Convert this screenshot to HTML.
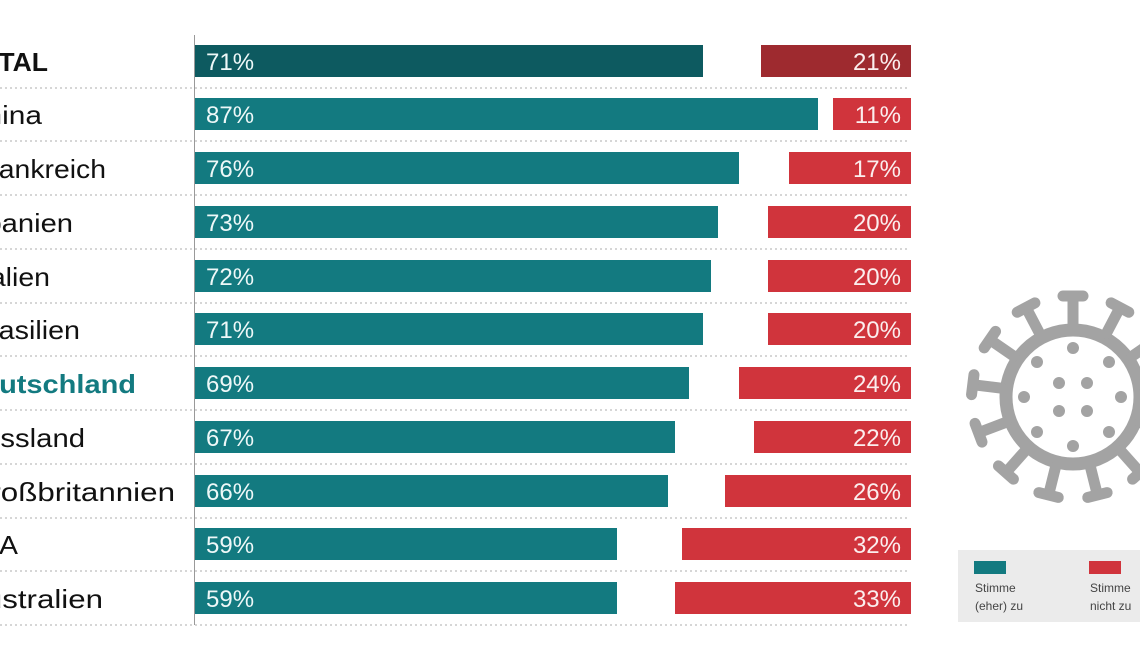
<!DOCTYPE html>
<html><head><meta charset="utf-8"><style>
html,body{margin:0;padding:0;background:#fff;}
svg{display:block;}
</style></head><body>
<svg width="1140" height="659" viewBox="0 0 1140 659" xmlns="http://www.w3.org/2000/svg" font-family="Liberation Sans, sans-serif">
<line x1="194.5" y1="35" x2="194.5" y2="625" stroke="#999" stroke-width="1"/>
<g stroke="#c8c8c8" stroke-width="1.5" stroke-dasharray="2,3">
<line x1="0" y1="88" x2="910" y2="88"/><line x1="0" y1="141" x2="910" y2="141"/>
<line x1="0" y1="195" x2="910" y2="195"/><line x1="0" y1="249" x2="910" y2="249"/>
<line x1="0" y1="303" x2="910" y2="303"/><line x1="0" y1="356" x2="910" y2="356"/>
<line x1="0" y1="410" x2="910" y2="410"/><line x1="0" y1="464" x2="910" y2="464"/>
<line x1="0" y1="518" x2="910" y2="518"/><line x1="0" y1="571" x2="910" y2="571"/>
<line x1="0" y1="625" x2="910" y2="625"/>
</g>
<g font-size="26" fill="#111">
<text x="-38" y="71" font-weight="bold" textLength="86" lengthAdjust="spacingAndGlyphs">TOTAL</text>
<text x="-36" y="124" textLength="78" lengthAdjust="spacingAndGlyphs">China</text>
<text x="-28" y="178" textLength="134" lengthAdjust="spacingAndGlyphs">Frankreich</text>
<text x="-34" y="232" textLength="107" lengthAdjust="spacingAndGlyphs">Spanien</text>
<text x="-26" y="286" textLength="76" lengthAdjust="spacingAndGlyphs">Italien</text>
<text x="-30" y="339" textLength="110" lengthAdjust="spacingAndGlyphs">Brasilien</text>
<text x="-38" y="393" font-weight="bold" fill="#137a80" textLength="174" lengthAdjust="spacingAndGlyphs">Deutschland</text>
<text x="-37" y="447" textLength="122" lengthAdjust="spacingAndGlyphs">Russland</text>
<text x="-34" y="501" textLength="209" lengthAdjust="spacingAndGlyphs">Großbritannien</text>
<text x="-40" y="554" textLength="58" lengthAdjust="spacingAndGlyphs">USA</text>
<text x="-36" y="608" textLength="139" lengthAdjust="spacingAndGlyphs">Australien</text>
</g>
<g>
<rect x="195" y="45" width="508" height="32" fill="#0d5a60"/><rect x="761" y="45" width="150" height="32" fill="#9e2a2f"/>
<rect x="195" y="98" width="623" height="32" fill="#137a80"/><rect x="833" y="98" width="78" height="32" fill="#d0343c"/>
<rect x="195" y="152" width="544" height="32" fill="#137a80"/><rect x="789" y="152" width="122" height="32" fill="#d0343c"/>
<rect x="195" y="206" width="523" height="32" fill="#137a80"/><rect x="768" y="206" width="143" height="32" fill="#d0343c"/>
<rect x="195" y="260" width="516" height="32" fill="#137a80"/><rect x="768" y="260" width="143" height="32" fill="#d0343c"/>
<rect x="195" y="313" width="508" height="32" fill="#137a80"/><rect x="768" y="313" width="143" height="32" fill="#d0343c"/>
<rect x="195" y="367" width="494" height="32" fill="#137a80"/><rect x="739" y="367" width="172" height="32" fill="#d0343c"/>
<rect x="195" y="421" width="480" height="32" fill="#137a80"/><rect x="754" y="421" width="157" height="32" fill="#d0343c"/>
<rect x="195" y="475" width="473" height="32" fill="#137a80"/><rect x="725" y="475" width="186" height="32" fill="#d0343c"/>
<rect x="195" y="528" width="422" height="32" fill="#137a80"/><rect x="682" y="528" width="229" height="32" fill="#d0343c"/>
<rect x="195" y="582" width="422" height="32" fill="#137a80"/><rect x="675" y="582" width="236" height="32" fill="#d0343c"/>
</g>
<g font-size="24" fill="#eef8f8">
<text x="206" y="70">71%</text><text x="206" y="123">87%</text><text x="206" y="177">76%</text>
<text x="206" y="231">73%</text><text x="206" y="285">72%</text><text x="206" y="338">71%</text>
<text x="206" y="392">69%</text><text x="206" y="446">67%</text><text x="206" y="500">66%</text>
<text x="206" y="553">59%</text><text x="206" y="607">59%</text>
</g>
<g font-size="24" fill="#fbeeee" text-anchor="end">
<text x="901" y="70">21%</text><text x="901" y="123">11%</text><text x="901" y="177">17%</text>
<text x="901" y="231">20%</text><text x="901" y="285">20%</text><text x="901" y="338">20%</text>
<text x="901" y="392">24%</text><text x="901" y="446">22%</text><text x="901" y="500">26%</text>
<text x="901" y="553">32%</text><text x="901" y="607">33%</text>
</g>
<g fill="#a3a3a3" stroke="#a3a3a3">
<circle cx="1073" cy="397" r="67" fill="none" stroke-width="13"/>
<g stroke-width="11" stroke-linecap="round">
<g id="sp"><line x1="1073" y1="325" x2="1073" y2="297"/><line x1="1063" y1="296" x2="1083" y2="296"/></g>
<use href="#sp" transform="rotate(27.7 1073 397)"/><use href="#sp" transform="rotate(-27.7 1073 397)"/>
<use href="#sp" transform="rotate(55.4 1073 397)"/><use href="#sp" transform="rotate(-55.4 1073 397)"/>
<use href="#sp" transform="rotate(83 1073 397)"/><use href="#sp" transform="rotate(-83 1073 397)"/>
<use href="#sp" transform="rotate(110.7 1073 397)"/><use href="#sp" transform="rotate(-110.7 1073 397)"/>
<use href="#sp" transform="rotate(138.4 1073 397)"/><use href="#sp" transform="rotate(-138.4 1073 397)"/>
<use href="#sp" transform="rotate(166 1073 397)"/><use href="#sp" transform="rotate(-166 1073 397)"/>
</g>
<g stroke="none">
<circle cx="1073" cy="348" r="6"/><circle cx="1073" cy="446" r="6"/>
<circle cx="1024" cy="397" r="6"/><circle cx="1121" cy="397" r="6"/>
<circle cx="1037" cy="362" r="6"/><circle cx="1109" cy="362" r="6"/>
<circle cx="1037" cy="432" r="6"/><circle cx="1109" cy="432" r="6"/>
<circle cx="1059" cy="383" r="6"/><circle cx="1087" cy="383" r="6"/>
<circle cx="1059" cy="411" r="6"/><circle cx="1087" cy="411" r="6"/>
</g>
</g>
<rect x="958" y="550" width="182" height="72" fill="#ebebeb"/>
<rect x="974" y="561" width="32" height="13" fill="#137a80"/>
<rect x="1089" y="561" width="32" height="13" fill="#d0343c"/>
<g font-size="12" fill="#444">
<text x="975" y="592">Stimme</text><text x="975" y="610">(eher) zu</text>
<text x="1090" y="592">Stimme</text><text x="1090" y="610">nicht zu</text>
</g>
</svg>
</body></html>
